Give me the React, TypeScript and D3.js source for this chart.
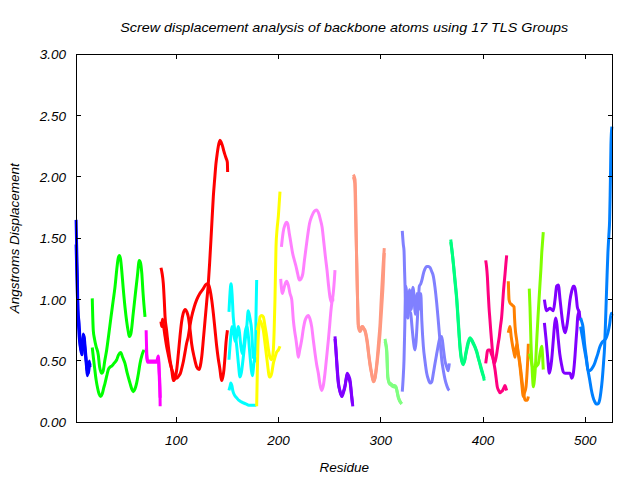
import React from "react";
import * as d3 from "d3";

type P = [number, number];

// residue, displacement (Å)
const blueA: P[] = [[2,1.65],[2.5,1.45],[3.2,1.2],[3.8,0.91],[5,0.8],[5.9,0.66],[6.8,0.58],[7.8,0.55],[8.8,0.68],[9.8,0.71],[10.7,0.62],[11.7,0.53],[13,0.42],[14,0.40],[15,0.46],[15.6,0.48]];
const blueB: P[] = [[2,1.45],[3,1.1],[4,0.85],[5,0.7],[6,0.62],[7,0.58],[8,0.62],[9,0.72],[10,0.66],[11,0.56],[12,0.47],[13,0.38],[14,0.43],[15,0.5],[15.6,0.45]];

const greenA: P[] = [[17.8,1.01],[18.8,0.75],[20,0.68],[21.5,0.62],[23.7,0.55],[25,0.45],[27,0.40],[28.5,0.42],[30,0.5],[31.9,0.59],[34,0.72],[36,0.85],[38.4,1.0],[40,1.1],[41.7,1.24],[43,1.33],[44.3,1.36],[45.5,1.33],[46.6,1.24],[48,1.1],[49.8,0.94],[51.5,0.82],[53,0.74],[54,0.70],[55.5,0.72],[57.9,0.89],[60,1.05],[61.9,1.19],[63.8,1.32],[65,1.3],[66.2,1.22],[67.5,1.05],[69.4,0.86]];
const greenB: P[] = [[17.8,0.61],[19,0.52],[20,0.45],[21.5,0.35],[23,0.28],[24.5,0.23],[26,0.21],[27.5,0.23],[29,0.28],[30.3,0.32],[32,0.38],[33.5,0.43],[35.2,0.45],[37,0.46],[39,0.48],[41.7,0.51],[43.5,0.55],[45.6,0.57],[47.5,0.53],[49.8,0.48],[52,0.4],[54.7,0.32],[56.5,0.27],[57.9,0.25],[59.5,0.27],[61.2,0.32],[63,0.4],[64.5,0.48],[66.5,0.55],[68.4,0.59]];

const magentaA: P[] = [[70.5,0.75],[71.2,0.55],[72,0.5],[76,0.5],[80.8,0.5],[82.4,0.54],[83.4,0.4],[84,0.29],[84.2,0.13]];
const magentaB: P[] = [[70.5,0.6],[71.2,0.52],[72,0.49],[76,0.49],[80.8,0.49],[82.4,0.52],[83.6,0.32],[84.2,0.2]];

const redA: P[] = [[85,1.26],[86,1.22],[87.3,1.13],[88.2,1.0],[89,0.86],[90.5,0.75],[92.2,0.62],[94,0.5],[95.5,0.43],[97.1,0.34],[98.8,0.36],[100.4,0.43],[102,0.56],[103.6,0.70],[105.2,0.82],[106.8,0.89],[108.8,0.92],[110.3,0.9],[111.7,0.86],[113.4,0.76],[115,0.64],[117.5,0.53],[120,0.45],[122.2,0.43],[123.5,0.46],[124.8,0.53],[126.5,0.68],[128.1,0.83],[129.7,0.98],[131.3,1.13],[132.6,1.3],[133.9,1.49],[135,1.66],[136.2,1.84],[137.5,1.98],[138.8,2.11],[140,2.19],[141.1,2.25],[142.7,2.30],[144,2.28],[145.3,2.25],[146.5,2.21],[147.6,2.18],[148.8,2.15],[149.9,2.12],[150.2,2.04]];
const redB: P[] = [[85,0.82],[85.7,0.78],[86.5,0.84],[87.3,0.8],[89,0.7],[90.5,0.62],[92.2,0.55],[94,0.48],[96,0.42],[98,0.38],[100.5,0.36],[102.6,0.38],[104,0.40],[105.3,0.44],[107,0.5],[108.5,0.57],[110,0.64],[111.7,0.70],[113.4,0.79],[115,0.86],[117.5,0.94],[120,1.0],[123,1.05],[126.4,1.09],[128.5,1.12],[130.3,1.13],[131.7,1.12],[133,1.08],[134.6,1.0],[136.2,0.89],[137.8,0.76],[139.5,0.62],[141,0.52],[142.7,0.43],[143.6,0.37],[144.4,0.34],[145.5,0.37],[146.6,0.43],[147.6,0.53],[148.6,0.65],[150,0.75]];

const cyanA: P[] = [[151.5,0.9],[152.5,1.05],[153.5,1.13],[154.5,1.05],[155.7,0.86],[157.4,0.74],[159.1,0.62],[160.7,0.48],[162.3,0.37],[163.5,0.4],[165.5,0.53],[167.2,0.66],[168.9,0.78],[170.4,0.91],[172,0.85],[173.7,0.75],[175.3,0.53],[176.5,0.52],[177.5,0.6],[178,0.9],[178.6,1.16]];
const cyanB: P[] = [[151.5,0.51],[152.5,0.62],[153.5,0.72],[154.5,0.78],[156,0.74],[157.5,0.66],[159,0.7],[160.5,0.78],[161.5,0.75],[163,0.63],[164.5,0.56],[166,0.62],[167.5,0.74],[169,0.78],[170.5,0.7],[172,0.55],[173.5,0.42],[174.5,0.38],[175.5,0.45],[176.5,0.52],[177.5,0.5],[178.3,0.53]];
const cyanC: P[] = [[151.5,0.26],[152.5,0.29],[153.3,0.32],[154.3,0.3],[155.5,0.25],[157,0.22],[159,0.2],[161,0.18],[163,0.17],[165,0.16],[168,0.15],[171,0.14],[174,0.14],[177,0.14],[178.3,0.14]];

const yellowA: P[] = [[178.6,0.13],[179.2,0.4],[179.8,0.62],[180.2,0.7],[181,0.8],[181.9,0.86],[183.5,0.87],[185.1,0.86],[186.8,0.78],[188.4,0.70],[190,0.6],[191.6,0.53],[193.3,0.51],[194.9,0.59],[195.7,0.75],[196.5,1.0],[197.5,1.43],[198.6,1.58],[199.8,1.68],[200.6,1.78],[201.4,1.88]];
const yellowB: P[] = [[179.2,0.75],[180.5,0.8],[181.9,0.83],[183.5,0.8],[185.1,0.75],[186.8,0.64],[188.4,0.53],[189.7,0.44],[190.95,0.37],[192,0.37],[193.3,0.40],[194.9,0.48],[196.5,0.53],[198,0.57],[199.8,0.59],[201.4,0.62]];

const violetA: P[] = [[202.8,1.43],[204.5,1.55],[206.3,1.61],[207.8,1.63],[208.9,1.62],[210.5,1.54],[212.1,1.46],[213.7,1.38],[215.5,1.32],[217.1,1.27],[218.7,1.21],[220.3,1.16],[222,1.17],[223.7,1.21],[225.3,1.32],[227,1.43],[228.6,1.53],[230.3,1.62],[232.5,1.68],[235,1.72],[237,1.73],[239.4,1.70],[241,1.65],[242.6,1.59],[244.1,1.48],[245.8,1.35],[247.4,1.24],[248.7,1.13],[250.3,1.02],[251.5,0.98],[253,1.02],[254.5,1.15],[255.2,1.24]];
const violetB: P[] = [[202.1,1.17],[203.7,1.05],[205.5,1.1],[207,1.14],[208,1.15],[209.5,1.12],[211.2,1.05],[212.9,1.0],[214.5,0.83],[215.8,0.74],[217.1,0.67],[218.2,0.6],[219.3,0.53],[220.5,0.58],[222.6,0.67],[224.2,0.76],[225.9,0.83],[227.5,0.86],[229.1,0.87],[230.8,0.84],[232.4,0.78],[234,0.67],[235.7,0.56],[237.3,0.47],[238.9,0.40],[240.5,0.31],[242.2,0.26],[243.8,0.3],[245.4,0.40],[247,0.53],[248.7,0.67],[250,0.79],[251,0.89],[253,1.0],[254.5,1.0]];

const purpleA: P[] = [[255.2,0.70],[256.1,0.6],[256.9,0.48],[258.4,0.32],[260,0.26],[261.8,0.21],[263.4,0.24],[265,0.29],[266.2,0.36],[267.2,0.40],[268.5,0.38],[270,0.34],[271,0.26],[271.6,0.21],[272.6,0.13]];
const purpleB: P[] = [[255.2,0.68],[256.9,0.5],[258.4,0.34],[260,0.25],[261.8,0.22],[263.4,0.25],[265,0.3],[267.2,0.39],[268.5,0.36],[270,0.32],[271.6,0.2],[272.3,0.15]];

const salmonA: P[] = [[273.1,2.02],[274.8,1.98],[275.3,1.85],[275.7,1.68],[276,1.5],[276.3,1.35],[277,1.08],[277.6,0.9],[278,0.78],[279.7,0.74],[281,0.76],[282.3,0.78],[283.5,0.76],[284.6,0.74],[285.7,0.7],[286.8,0.64],[288,0.56],[289.5,0.48],[290.8,0.41],[292.1,0.35],[293.2,0.34],[294.4,0.37],[295.5,0.44],[296.6,0.53],[298,0.67],[299.3,0.81],[300.1,0.95],[300.9,1.08],[301.7,1.2],[302.4,1.30],[303.4,1.42]];
const salmonB: P[] = [[273.1,2.0],[274.5,1.95],[275.5,1.62],[276.5,1.3],[277,1.1],[278,0.8],[279.7,0.75],[281.5,0.78],[283,0.77],[284.6,0.75],[286.8,0.66],[289.5,0.46],[291.5,0.38],[292.8,0.33],[294.4,0.36],[296.6,0.5],[299.3,0.73],[301,0.95],[302.4,1.15],[303.4,1.38]];

const lightGreenA: P[] = [[304.1,0.68],[305,0.64],[305.8,0.59],[306.3,0.48],[306.7,0.37],[308,0.33],[309,0.32],[310.5,0.31],[312.2,0.30],[313.5,0.3],[314.9,0.29],[316,0.25],[317.1,0.21],[318.8,0.17],[320.4,0.15]];
const lightGreenB: P[] = [[304.1,0.66],[305.8,0.57],[306.7,0.4],[308,0.32],[310.5,0.3],[312.2,0.29],[314.9,0.28],[317.1,0.2],[320.4,0.15]];

const periA: P[] = [[321,1.56],[322,1.45],[322.7,1.40],[323.2,1.25],[323.7,1.11],[324.5,0.95],[325.3,0.86],[326.1,0.92],[326.9,0.97],[327.7,0.93],[328.5,0.9],[329.2,0.89],[330.5,0.78],[331.8,0.67],[333.5,0.59],[334.5,0.66],[335.7,0.83],[336.7,0.98],[337.7,1.11],[339.1,1.13],[340.5,1.17],[341.6,1.21],[343.2,1.25],[344.9,1.27],[346.5,1.27],[348.2,1.26],[349.8,1.23],[351.4,1.19],[353,1.1],[354.7,0.97],[356,0.85],[357.2,0.73],[358.4,0.62],[359.6,0.51],[361.2,0.42],[362.8,0.35],[364.5,0.3],[366,0.27],[367,0.26]];
const periB: P[] = [[321,0.25],[321.8,0.35],[322.7,0.51],[323.5,0.8],[324.3,1.11],[325,1.08],[325.8,0.95],[326.6,0.85],[327.4,0.98],[328.2,1.08],[329,1.0],[329.8,0.92],[330.6,1.05],[331.4,1.1],[332.2,1.06],[333,0.95],[333.8,0.88],[334.6,0.95],[335.4,1.05],[336.2,1.0],[337,0.92],[338,0.98],[339.1,1.05],[340.1,0.83],[341.6,0.62],[343.2,0.5],[344.9,0.40],[346.5,0.35],[348.2,0.32],[349.8,0.33],[351.4,0.40],[353,0.48],[354.7,0.56],[356,0.62],[357.2,0.67],[358.4,0.69],[359.6,0.70],[361.2,0.6],[362.8,0.5],[364.5,0.45],[366,0.42],[367,0.48]];

const springA: P[] = [[368.4,1.49],[369.9,1.38],[371.2,1.28],[372.6,1.16],[374.2,1.02],[375.8,0.83],[377.5,0.62],[379.1,0.51],[380.7,0.48],[382,0.5],[383.3,0.56],[385.2,0.63],[387.2,0.68],[388.8,0.67],[390.4,0.64],[392.1,0.61],[393.8,0.57],[395.4,0.52],[397,0.48],[398.3,0.44],[399.7,0.40],[401.2,0.34]];
const springB: P[] = [[368.4,1.47],[370,1.37],[372.6,1.14],[374.2,1.0],[375.8,0.8],[377.5,0.6],[379.1,0.5],[380.7,0.47],[383.3,0.57],[385.2,0.65],[387.2,0.69],[390.4,0.65],[393.8,0.58],[397,0.47],[399.7,0.39],[401.2,0.36]];

const pinkA: P[] = [[402.6,1.32],[403.4,1.27],[404.2,1.19],[405,1.06],[405.8,0.94],[406.7,0.84],[407.5,0.75],[408.5,0.65],[409.4,0.56],[410.5,0.49],[411.7,0.43],[412.8,0.36],[413.9,0.29],[415.2,0.26],[416.6,0.24],[417.9,0.25],[419.2,0.26],[420.3,0.28],[421.5,0.30],[422.3,0.28],[423.1,0.26]];
const pinkB: P[] = [[402.6,0.48],[403.4,0.53],[404.2,0.58],[405,0.59],[406.8,0.59],[408,0.56],[409.4,0.53],[411,0.48],[412,0.5],[413.4,0.56],[414.6,0.63],[415.9,0.70],[417,0.78],[418.2,0.86],[419,0.95],[419.8,1.05],[420.6,1.13],[421.5,1.21],[422.3,1.29],[423.1,1.36]];

const orangeA: P[] = [[424.7,1.15],[425.1,1.05],[425.4,1.0],[426.5,0.97],[428,0.96],[429.2,0.95],[430.3,0.94],[430.8,0.85],[431.3,0.78],[432.9,0.67],[434.5,0.56],[436.2,0.45],[437.8,0.32],[439.4,0.21],[440.5,0.24],[442,0.29],[443,0.4],[443.7,0.51],[444.3,0.64]];
const orangeB: P[] = [[424.7,0.73],[425.5,0.76],[426.4,0.78],[427.5,0.7],[429,0.62],[430.2,0.57],[431.3,0.53],[432.9,0.64],[434,0.58],[435.2,0.53],[436.8,0.43],[438.8,0.29],[440,0.22],[441.1,0.18],[442.5,0.18],[443.3,0.18],[444.3,0.21]];

const chartreuseA: P[] = [[445.2,1.09],[445.9,0.94],[446.9,0.64],[448.2,0.40],[449.2,0.29],[450,0.33],[450.8,0.40],[451.7,0.53],[452.5,0.67],[454.1,0.91],[455.7,1.13],[456.6,1.25],[457.4,1.38],[458.2,1.47],[458.9,1.55]];
const chartreuseB: P[] = [[445.2,0.56],[446.9,0.51],[449.2,0.43],[450.8,0.45],[452.5,0.46],[454.1,0.48],[455.7,0.56],[457.4,0.62],[458.3,0.53],[458.9,0.43]];

const violet2A: P[] = [[460,1.0],[462.2,0.91],[463.8,0.92],[465.5,0.93],[467.1,0.92],[468.7,0.91],[470.4,1.0],[472,1.11],[473.6,1.12],[475.3,1.0],[476.6,0.9],[477.9,0.81],[479,0.76],[480.2,0.73],[481.3,0.76],[482.4,0.81],[483.7,0.9],[485.1,1.0],[486.7,1.07],[488.3,1.11],[489.2,1.11],[490,1.09],[491.2,1.02],[492.2,0.94],[494.2,0.89],[494.9,0.83]];
const violet2B: P[] = [[460,0.81],[461.7,0.67],[463.2,0.53],[464.8,0.40],[466,0.44],[467.1,0.51],[468.7,0.67],[470,0.8],[471,0.85],[472.2,0.8],[473.5,0.68],[475,0.56],[476.8,0.47],[478.5,0.41],[480.2,0.40],[481.8,0.40],[483.5,0.40],[485.1,0.40],[486.7,0.36],[487.9,0.38],[489,0.45],[490,0.55],[491,0.67],[491.8,0.76],[492.6,0.86],[493.8,0.9],[494.9,0.91]];

const azureA: P[] = [[495.4,0.85],[496.5,0.82],[497.7,0.78],[499.3,0.64],[501,0.53],[502.5,0.43],[504.2,0.42],[505.8,0.43],[507.4,0.45],[509.1,0.48],[510.7,0.52],[512.3,0.56],[514,0.61],[515.6,0.64],[517.3,0.66],[518.9,0.67],[520.5,0.69],[522.1,0.73],[523.8,0.8],[525.4,0.89],[526.2,0.87]];
const azureB: P[] = [[495.4,0.78],[497.7,0.67],[499.3,0.59],[501,0.51],[502.5,0.43],[504.2,0.35],[505.8,0.27],[507.4,0.21],[509.1,0.17],[510.7,0.15],[512.3,0.15],[514,0.18],[515.3,0.25],[516.6,0.35],[517.8,0.48],[518.9,0.62],[519.7,0.8],[520.5,1.0],[521.3,1.2],[522.1,1.38],[523,1.52],[523.8,1.65],[524.3,1.85],[524.7,2.05],[525.1,2.27],[526,2.41]];

const seriesList: P[][][] = [
  [blueA, blueB], [greenA, greenB], [magentaA, magentaB], [redA, redB],
  [cyanA, cyanB, cyanC], [yellowA, yellowB], [violetA, violetB], [purpleA, purpleB],
  [salmonA, salmonB], [lightGreenA, lightGreenB], [periA, periB], [springA, springB],
  [pinkA, pinkB], [orangeA, orangeB], [chartreuseA, chartreuseB], [violet2A, violet2B],
  [azureA, azureB],
];
const groupColors = [
  "#0000ff", "#00ff00", "#ff00ff", "#ff0000", "#00ffff", "#ffff00", "#ff80ff", "#8000ff",
  "#ff9980", "#80ff80", "#8080ff", "#00ff80", "#ff0080", "#ff8000", "#80ff00", "#8000ff", "#0080ff",
];

const xTicks = [100, 200, 300, 400, 500];
const yTicks = [0, 0.5, 1, 1.5, 2, 2.5, 3];

const titleText = "Screw displacement analysis of backbone atoms using 17 TLS Groups";
const xLabel = "Residue";
const yLabel = "Angstroms Displacement";

const W = 640, H = 480;
const L = 76, R = 612.5, T = 54.3, B = 422.3;

export default function App() {
  const x = d3.scaleLinear().domain([1.9, 526.6]).range([L, R]);
  const y = d3.scaleLinear().domain([0, 3]).range([B, T]);
  const line = d3.line<P>().x(d => x(d[0])).y(d => y(d[1])).curve(d3.curveMonotoneX);
  const font = "'Liberation Sans', Arial, sans-serif";
  const tl = 5;
  return (
    <svg width={W} height={H} style={{ position: "absolute", left: 0, top: 0, background: "#fff" }}
      fontFamily={font} fontStyle="italic">
      <rect x={0} y={0} width={W} height={H} fill="#fff" />
      <text x={(L + R) / 2} y={32} textAnchor="middle" fontSize={13} textLength={448} lengthAdjust="spacingAndGlyphs">{titleText}</text>
      {seriesList.map((grp, gi) =>
        grp.map((s, si) => (
          <path key={`${gi}-${si}`} d={line(s) || ""} fill="none" stroke={groupColors[gi]} strokeWidth={3} strokeLinejoin="round" />
        ))
      )}
      <g shapeRendering="crispEdges" stroke="#000" strokeWidth={1}>
        <rect x={L} y={T} width={R - L} height={B - T} fill="none" />
        {yTicks.map(t => (
          <g key={`yt${t}`}>
            <line x1={L} x2={L + tl} y1={y(t)} y2={y(t)} />
            <line x1={R - tl} x2={R} y1={y(t)} y2={y(t)} />
          </g>
        ))}
        {xTicks.map(t => (
          <g key={`xt${t}`}>
            <line x1={x(t)} x2={x(t)} y1={B} y2={B - tl} />
            <line x1={x(t)} x2={x(t)} y1={T} y2={T + tl} />
          </g>
        ))}
      </g>
      {yTicks.map(t => (
        <text key={`yl${t}`} x={66} y={y(t) + 5} textAnchor="end" fontSize={13.5}>{d3.format(".2f")(t)}</text>
      ))}
      {xTicks.map(t => (
        <text key={`xl${t}`} x={x(t)} y={445} textAnchor="middle" fontSize={13.5}>{t}</text>
      ))}
      <text x={(L + R) / 2} y={472} textAnchor="middle" fontSize={13.5}>{xLabel}</text>
      <text transform={`translate(19, ${(T + B) / 2}) rotate(-90)`} textAnchor="middle" fontSize={13.5}>{yLabel}</text>
    </svg>
  );
}
